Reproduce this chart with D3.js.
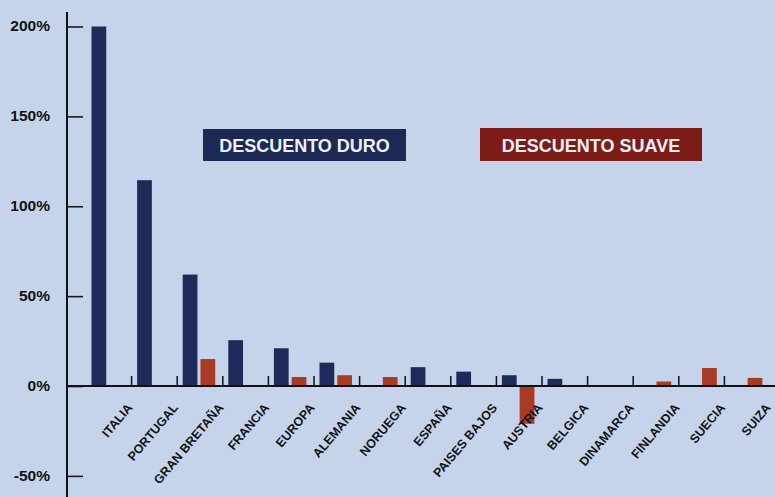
<!DOCTYPE html>
<html>
<head>
<meta charset="utf-8">
<script src="https://cdn.jsdelivr.net/npm/d3@7/dist/d3.min.js"></script>
<style>
  html, body { margin: 0; padding: 0; background: #c5d4ea; }
  svg { display: block; }
  text { font-family: "Liberation Sans", Arial, Helvetica, sans-serif; font-weight: bold; }
</style>
</head>
<body>
<svg id="chart" width="775" height="497"></svg>
<script>
// Countries along the x axis
const countries = ["ITALIA", "PORTUGAL", "GRAN BRETAÑA", "FRANCIA", "EUROPA", "ALEMANIA",
  "NORUEGA", "ESPAÑA", "PAISES BAJOS", "AUSTRIA", "BELGICA", "DINAMARCA",
  "FINLANDIA", "SUECIA", "SUIZA"];

// Growth (%) of hard-discount stores (null = no bar)
const descuentoDuro = [200, 114.5, 62, 25.5, 21, 13, null, 10.5, 8, 6, 4, null, null, null, null];

// Growth (%) of soft-discount stores (null = no bar)
const descuentoSuave = [null, null, 15, null, 5, 6, 5, null, null, -21, null, null, 2.5, 10, 4.5];

const seriesNames = ["DESCUENTO DURO", "DESCUENTO SUAVE"];
const seriesColors = ["#1d2b5b", "#a93a24"];
const legendColors = ["#1b2954", "#7d1c16"];

const yTicks = [-50, 0, 50, 100, 150, 200];
const yTickLabels = ["-50%", "0%", "50%", "100%", "150%", "200%"];

const svg = d3.select("#chart");

const x = d3.scaleBand().domain(countries).range([86, 770]).padding(0);
const xs = d3.scaleBand().domain([0, 1]).range([5.5, 38]).paddingInner(0.17);
const y = d3.scaleLinear().domain([-50, 200]).range([475.9, 26.5]);

// Bars
const rows = countries.map((c, i) => ({ c, vals: [descuentoDuro[i], descuentoSuave[i]] }));
const g = svg.append("g");
rows.forEach(r => {
  r.vals.forEach((v, s) => {
    if (v == null) return;
    g.append("rect")
      .attr("x", x(r.c) + xs(s))
      .attr("width", xs.bandwidth())
      .attr("y", y(Math.max(0, v)))
      .attr("height", Math.abs(y(v) - y(0)))
      .attr("fill", seriesColors[s]);
  });
});

// Y axis: ticks point inward, labels on the left
const yAxis = d3.axisLeft(y)
  .tickValues(yTicks)
  .tickFormat((d, i) => yTickLabels[i])
  .tickSizeInner(-16)
  .tickSizeOuter(0)
  .tickPadding(17);
const ya = svg.append("g").attr("transform", "translate(67,0)").call(yAxis);
ya.select(".domain").remove();
ya.selectAll(".tick line").attr("stroke", "#1a1a1a").attr("stroke-width", 1.6);
ya.selectAll(".tick text")
  .attr("fill", "#111")
  .attr("font-size", "15.5px")
  .attr("font-family", "Liberation Sans, Arial, sans-serif")
  .attr("font-weight", "bold")
  .attr("dy", "0.28em");
svg.append("line")
  .attr("x1", 67).attr("x2", 67).attr("y1", 12).attr("y2", 497)
  .attr("stroke", "#111").attr("stroke-width", 2);

// X axis line at zero with separators between countries
svg.append("line")
  .attr("x1", 67).attr("x2", 775).attr("y1", y(0)).attr("y2", y(0))
  .attr("stroke", "#111").attr("stroke-width", 2);
svg.append("g").selectAll("line")
  .data(countries.slice(1))
  .join("line")
  .attr("x1", d => x(d)).attr("x2", d => x(d))
  .attr("y1", y(0) - 10).attr("y2", y(0))
  .attr("stroke", "#111").attr("stroke-width", 1.5);

// Country labels, slanted
const labels = svg.append("g").selectAll("g")
  .data(countries)
  .join("g")
  .attr("transform", d => "translate(" + (x(d) + 47) + "," + (y(0) + 22) + ")");
labels.append("text")
  .attr("transform", "rotate(-50)")
  .attr("text-anchor", "end")
  .style("font-size", "12.5px")
  .attr("fill", "#111")
  .text(d => d);

// Legend boxes
const legend = [
  { x0: 203, x1: 406, y0: 129, y1: 161 },
  { x0: 480, x1: 702, y0: 128, y1: 161 }
];
legend.forEach((b, i) => {
  svg.append("rect")
    .attr("x", b.x0).attr("y", b.y0)
    .attr("width", b.x1 - b.x0).attr("height", b.y1 - b.y0)
    .attr("fill", legendColors[i]);
  svg.append("text")
    .attr("x", (b.x0 + b.x1) / 2).attr("y", 152)
    .attr("text-anchor", "middle")
    .attr("font-size", "18px")
    .attr("fill", "#eef0f6")
    .text(seriesNames[i]);
});
</script>
</body>
</html>
